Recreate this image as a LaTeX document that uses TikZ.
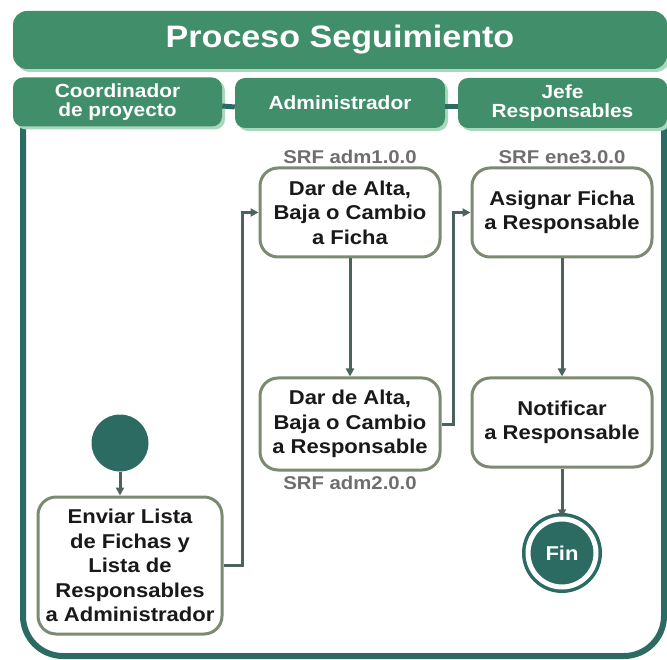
\documentclass[tikz,border=0pt]{standalone}
\usepackage{fontspec}
\setmainfont{Liberation Sans}[FakeStretch=1.1]
\usetikzlibrary{arrows.meta,shadows}

\definecolor{lanegreen}{HTML}{418E6A}
\definecolor{laneshadow}{HTML}{A9D8BC}
\definecolor{frameteal}{HTML}{2C6B62}
\definecolor{boxborder}{HTML}{7D8A72}
\definecolor{flowgray}{HTML}{4B625F}
\definecolor{srfgray}{HTML}{6E6E6E}

\tikzset{
  lane/.style={rectangle, rounded corners=10pt, fill=lanegreen, text=white,
    font=\bfseries\fontsize{19}{19.5}\selectfont, align=center, inner sep=0pt,
    drop shadow={shadow xshift=3pt, shadow yshift=-3pt, fill=laneshadow, opacity=1}},
  task/.style={rectangle, rounded corners=18pt, draw=boxborder, line width=3pt,
    fill=white, text=black!90, font=\bfseries\fontsize{20}{24.5}\selectfont,
    align=center, inner sep=0pt, minimum width=180pt},
  srf/.style={text=srfgray, font=\bfseries\fontsize{18.5}{20}\selectfont, inner sep=0pt},
  flow/.style={draw=flowgray, line width=3pt, -{Triangle[length=8pt,width=8pt]}},
  lanelink/.style={draw=frameteal, line width=5pt}
}

\begin{document}
\begin{tikzpicture}[x=1pt, y=-1pt]
            \useasboundingbox (0,0) rectangle (667,660);

            % Draw the outer frame of the lanes
            \draw[frameteal, line width=6pt, rounded corners=40pt]
              (23,120) -- (23,656) -- (664,656) -- (664,120);

            % Draw the title bar
            \node[lane, rounded corners=14pt, minimum width=654pt, minimum height=58pt,
              font=\bfseries\fontsize{31}{32}\selectfont] (titulo) at (340,40) {Proceso Seguimiento};

            % Draw the lane headers
            \node[lane, minimum width=209pt, minimum height=49pt] (hcoord) at (117.5,102) {Coordinador\\de proyecto};
            \node[lane, minimum width=210pt, minimum height=50pt] (hadmin) at (340,103) {Administrador};
            \node[lane, minimum width=209pt, minimum height=50pt] (hjefe) at (562.5,103) {Jefe\\Responsables};

            % Join the headers
            \draw[lanelink] ([yshift=-4pt]hcoord.east) -- ([yshift=-4pt]hadmin.west);
            \draw[lanelink] ([yshift=-4pt]hadmin.east) -- ([yshift=-4pt]hjefe.west);

            % Draw the start point
            \node[circle, fill=frameteal, minimum size=57pt, inner sep=0pt] (inicio) at (120,443) {};

            % Draw the tasks
            \node[task, minimum width=184pt, minimum height=137pt] (enviar) at (130,565.5)
              {Enviar Lista\\de Fichas y\\Lista de\\Responsables\\a Administrador};
            \node[task, minimum height=89pt] (altaficha) at (350,212.5) {Dar de Alta,\\Baja o Cambio\\a Ficha};
            \node[task, minimum height=92pt] (altaresp) at (350,424) {Dar de Alta,\\Baja o Cambio\\a Responsable};
            \node[task, minimum height=89pt] (asignar) at (562,212.5) {Asignar Ficha\\a Responsable};
            \node[task, minimum height=89pt] (notificar) at (562,422.5) {Notificar\\a Responsable};

            % Draw the end point
            \node[circle, fill=frameteal, draw=frameteal, line width=3.5pt, double=white,
              double distance=5pt, minimum size=68pt, inner sep=0pt, text=white,
              font=\bfseries\fontsize{20}{22}\selectfont] (fin) at (562,553) {Fin};

            % Requirement labels
            \node[srf] (srf1) at (350,157) {SRF adm1.0.0};
            \node[srf] (srf2) at (350,483) {SRF adm2.0.0};
            \node[srf] (srf3) at (562,157) {SRF ene3.0.0};

            % Draw the flow between tasks
            \draw[flow] (inicio) -- (inicio |- enviar.north);
            \draw[flow] (enviar.east) -- ++(19,0) |- (altaficha.west);
            \draw[flow] (altaficha) -- (altaresp);
            \draw[flow] (altaresp.east) -- ++(12,0) |- (asignar.west);
            \draw[flow] (asignar) -- (notificar);
            \draw[flow] (notificar) -- (fin);
\end{tikzpicture}
\end{document}
